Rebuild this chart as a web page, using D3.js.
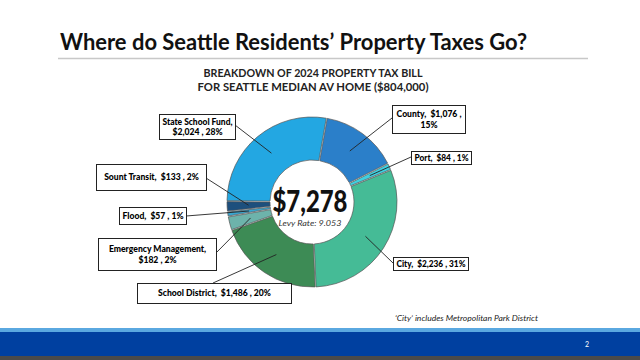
<!DOCTYPE html>
<html><head><meta charset="utf-8">
<script src="https://cdn.jsdelivr.net/npm/d3@7"></script>
<style>html,body{margin:0;padding:0;background:#fff;}svg{display:block;}text{white-space:pre;}</style>
</head><body><svg id="c" width="640" height="360"></svg>
<script>
// ---- data ----
const categories = ["County","Port","City","School District","Emergency Management","Flood","Sount Transit","State School Fund"];
const amounts = [1076, 84, 2236, 1486, 182, 57, 133, 2024];
const percents = ["15%","1%","31%","20%","2%","1%","2%","28%"];
const totalLabel = "$7,278";
const levyLabel = "Levy Rate: 9.053";
const titleText = "Where do Seattle Residents\u2019 Property Taxes Go?";
const subtitleLines = ["BREAKDOWN OF 2024 PROPERTY TAX BILL","FOR SEATTLE MEDIAN AV HOME ($804,000)"];
const footnote = "\u2018City\u2019 includes Metropolitan Park District";
const pageNumber = "2";

// ---- styles / layout ----
const colors = ["#2b7fc9","#3fd0e0","#45bb96","#3d8b55","#6db3ab","#3aa6d0","#1d4f7d","#23a7e2"];
const labelLines = [
  ["County,  $1,076 ,","15%"],
  ["Port,  $84 , 1%"],
  ["City,  $2,236 , 31%"],
  ["School District,  $1,486 , 20%"],
  ["Emergency Management,","$182 , 2%"],
  ["Flood,  $57 , 1%"],
  ["Sount Transit,  $133 , 2%"],
  ["State School Fund,","$2,024 , 28%"]
];
// box x,y,w,h and leader start point (sx,sy)
const boxes = [
  {x:392,y:105,w:73,h:28,sx:392,sy:118},
  {x:411,y:151,w:60,h:13,sx:411,sy:157},
  {x:393,y:257,w:75,h:13,sx:393,sy:263},
  {x:137,y:283,w:154,h:20,sx:213,sy:283},
  {x:98,y:238,w:118,h:32,sx:216,sy:253},
  {x:119,y:207,w:67,h:17,sx:186,sy:216},
  {x:96,y:164,w:110,h:26,sx:206,sy:178},
  {x:159,y:114,w:76,h:25,sx:235,sy:125}
];
const cx = 312, cy = 202, rOuter = 85, rInner = 42;
const startDeg = 10;
const font = "Lato, 'Open Sans', sans-serif";

const svg = d3.select("#c");

// title
svg.append("text").attr("x",60).attr("y",50)
  .attr("font-family",font).attr("font-weight","bold").attr("font-size",22)
  .attr("fill","#111").attr("textLength",467).attr("lengthAdjust","spacingAndGlyphs").text(titleText);
svg.append("line").attr("x1",58).attr("x2",588).attr("y1",58.5).attr("y2",58.5)
  .attr("stroke","#c8c8c8").attr("stroke-width",1.5);

// subtitle
const subW = [219,231], subY = [77,91];
subtitleLines.forEach((s,i)=>{
  svg.append("text").attr("x",313).attr("y",subY[i]).attr("text-anchor","middle")
    .attr("font-family",font).attr("font-weight","bold").attr("font-size",10.5)
    .attr("fill","#222").attr("textLength",subW[i]).attr("lengthAdjust","spacingAndGlyphs").text(s);
});

// donut
const pie = d3.pie().sort(null).value(d=>d)
  .startAngle(startDeg*Math.PI/180).endAngle((startDeg+360)*Math.PI/180).padAngle(0.01);
const arcs = pie(amounts);
const arc = d3.arc().innerRadius(rInner).outerRadius(rOuter);
const g = svg.append("g").attr("transform",`translate(${cx},${cy})`);
g.selectAll("path").data(arcs).join("path")
  .attr("d",arc).attr("fill",(d,i)=>colors[i])
  .attr("stroke","#555").attr("stroke-width",0.7);

// center text
svg.append("text").attr("x",cx-2).attr("y",212).attr("text-anchor","middle")
  .attr("font-family",font).attr("font-weight",900).attr("font-size",30)
  .attr("fill","#111").attr("textLength",75).attr("lengthAdjust","spacingAndGlyphs").text(totalLabel);
svg.append("text").attr("x",cx-2).attr("y",226).attr("text-anchor","middle")
  .attr("font-family",font).attr("font-style","italic").attr("font-size",8.5)
  .attr("fill","#333").attr("textLength",63).attr("lengthAdjust","spacingAndGlyphs").text(levyLabel);

// leader lines + boxes
const labelArc = d3.arc().innerRadius((rInner+rOuter)/2).outerRadius((rInner+rOuter)/2);
arcs.forEach((a,i)=>{
  const [px,py] = labelArc.centroid(a);
  const b = boxes[i];
  svg.append("line").attr("x1",b.sx).attr("y1",b.sy).attr("x2",cx+px).attr("y2",cy+py)
    .attr("stroke","#222").attr("stroke-width",0.9);
});
arcs.forEach((a,i)=>{
  const b = boxes[i];
  svg.append("rect").attr("x",b.x+0.5).attr("y",b.y+0.5).attr("width",b.w).attr("height",b.h)
    .attr("fill","#fff").attr("stroke","#222").attr("stroke-width",1);
  const lines = labelLines[i];
  const lh = 10.5;
  const y0 = b.y + b.h/2 - (lines.length-1)*lh/2 + 3.3;
  lines.forEach((ln,j)=>{
    const tx = svg.append("text").attr("x",b.x+b.w/2+0.5).attr("y",y0+j*lh)
      .attr("text-anchor","middle").attr("font-family",font).attr("font-weight",900)
      .attr("font-size",8.6).attr("fill","#000").text(ln);
    const w = tx.node().getComputedTextLength();
    const maxW = b.w - 6;
    if (w > maxW) tx.attr("textLength",maxW).attr("lengthAdjust","spacingAndGlyphs");
  });
});

// footnote
svg.append("text").attr("x",395).attr("y",321)
  .attr("font-family",font).attr("font-style","italic").attr("font-size",7.5)
  .attr("fill","#222").attr("textLength",143).attr("lengthAdjust","spacingAndGlyphs").text(footnote);

// bottom band
svg.append("rect").attr("x",0).attr("y",328).attr("width",640).attr("height",4).attr("fill","#5aa8e0");
svg.append("rect").attr("x",0).attr("y",332).attr("width",640).attr("height",24).attr("fill","#0040a0");
svg.append("rect").attr("x",0).attr("y",356).attr("width",640).attr("height",4).attr("fill","#4a4a4a");
svg.append("text").attr("x",587).attr("y",347).attr("text-anchor","middle")
  .attr("font-family",font).attr("font-size",7).attr("fill","#fff").text(pageNumber);
</script></body></html>
